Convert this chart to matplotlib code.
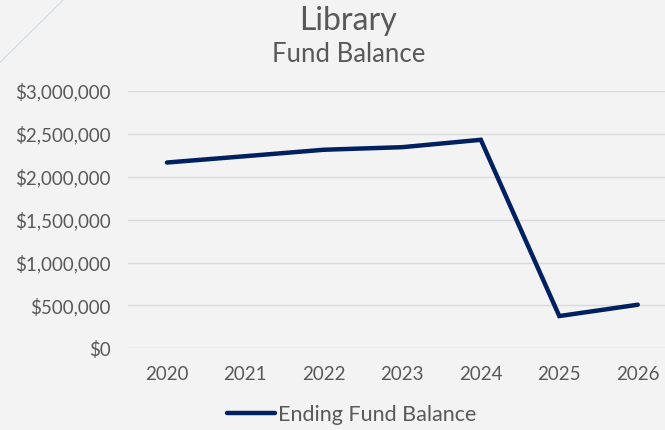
import matplotlib
matplotlib.use("Agg")
import matplotlib.pyplot as plt
from matplotlib.lines import Line2D
from matplotlib.ticker import FuncFormatter

years = ["2020", "2021", "2022", "2023", "2024", "2025", "2026"]
ending_fund_balance = [2166000, 2240000, 2315000, 2345000, 2431000, 376000, 508000]
y_ticks = [0, 500000, 1000000, 1500000, 2000000, 2500000, 3000000]

plt.rcParams['font.family'] = ['Lato', 'DejaVu Sans']
text_color = "#595959"
line_color = "#002060"

fig = plt.figure(figsize=(6.65, 4.30), dpi=100)
fig.patch.set_facecolor("#f3f3f3")

# subtle decorative diagonal line at top-left
fig.add_artist(Line2D([0.0, 0.095], [0.855, 1.0], transform=fig.transFigure,
                      color="#cfdde8", lw=0.8))

ax = fig.add_axes([127.7/665, 1 - 348.3/430, (677 - 127.7)/665, (348.3 - 91)/430])
ax.set_facecolor("none")
x = list(range(len(years)))
ax.plot(x, ending_fund_balance, color=line_color, lw=3.2, solid_capstyle="round",
        solid_joinstyle="miter", label="Ending Fund Balance")
ax.set_xlim(-0.5, len(years) - 0.5)
ax.set_ylim(0, 3000000)
ax.set_yticks(y_ticks)
ax.yaxis.set_major_formatter(FuncFormatter(lambda v, p: "${:,.0f}".format(v)))
ax.set_xticks(x)
ax.set_xticklabels(years)
ax.grid(axis="y", color="#d9d9d9", lw=1)
ax.set_axisbelow(True)
for s in ax.spines.values():
    s.set_visible(False)
ax.tick_params(axis="both", length=0, labelsize=13.5, labelcolor=text_color)
ax.tick_params(axis="y", pad=12)
ax.tick_params(axis="x", pad=13)

fig.text(0.524, 1 - 21/430, "Library", ha="center", va="center", fontsize=23, color=text_color)
fig.text(0.524, 1 - 55/430, "Fund Balance", ha="center", va="center", fontsize=18.5, color=text_color)

leg = fig.legend(handles=[Line2D([0], [0], color=line_color, lw=3.2, solid_capstyle="round")],
                 labels=["Ending Fund Balance"], loc="center", bbox_to_anchor=(0.529, 1 - 415/430),
                 frameon=False, fontsize=15.5, handlelength=2.2, handletextpad=0.15)
for t in leg.get_texts():
    t.set_color(text_color)

fig.savefig("out.png", dpi=100, facecolor=fig.get_facecolor())
